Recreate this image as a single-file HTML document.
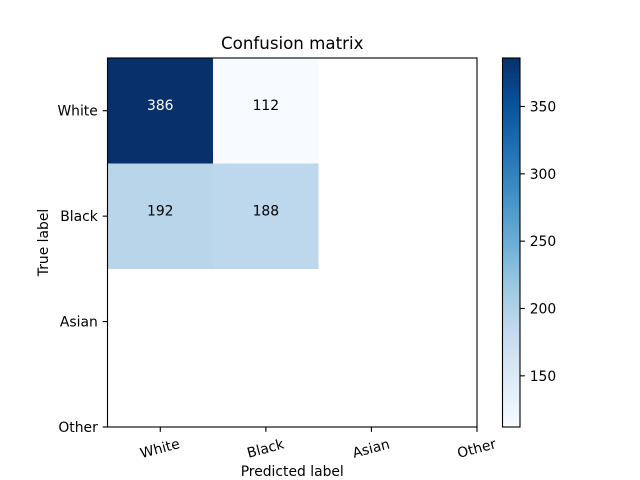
<!DOCTYPE html>
<html>
<head>
<meta charset="utf-8">
<title>Confusion matrix</title>
<style>
html,body{margin:0;padding:0;background:#fff;}
svg{display:block;}
text{font-family:"DejaVu Sans",sans-serif;font-size:13.89px;fill:#000;}
</style>
</head>
<body>
<svg id="chart" xmlns="http://www.w3.org/2000/svg" width="640" height="480" viewBox="0 0 640 480"></svg>
<script>
const trueLabels = ['White', 'Black', 'Asian', 'Other'];
const predictedLabels = ['White', 'Black', 'Asian', 'Other'];
const matrixRow0 = [386, 112];
const matrixRow1 = [192, 188];
const matrixRows = [matrixRow0, matrixRow1];
const colorbarTicks = [150, 200, 250, 300, 350];
const blues = ['#f7fbff', '#deebf7', '#c6dbef', '#9ecae1', '#6baed6', '#4292c6', '#2171b5', '#08519c', '#08306b'];
const titleText = 'Confusion matrix';
const xTitleText = 'Predicted label';
const yTitleText = 'True label';

const NS = 'http://www.w3.org/2000/svg';
const svg = document.getElementById('chart');
const plot = {left: 107.5, right: 477, top: 58, bottom: 427};
const bar = {left: 502.5, right: 520, top: 58, bottom: 427};
const all = matrixRows.flat();
const vMin = Math.min(...all);
const vMax = Math.max(...all);
const xScale = v => plot.left + (v + 0.5) * (plot.right - plot.left) / 3.5;
const yScale = v => plot.top + (v + 0.5) * (plot.bottom - plot.top) / 3.5;
const barY = v => bar.bottom - (v - vMin) / (vMax - vMin) * (bar.bottom - bar.top);

function add(tag, attrs, parent) {
  const el = document.createElementNS(NS, tag);
  for (const k in attrs) el.setAttribute(k, attrs[k]);
  (parent || svg).appendChild(el);
  return el;
}
function colorAt(t) {
  const p = Math.max(0, Math.min(1, t)) * (blues.length - 1);
  const i = Math.min(Math.floor(p), blues.length - 2);
  const f = p - i;
  const c = s => [1, 3, 5].map(o => parseInt(s.substr(o, 2), 16));
  const a = c(blues[i]), b = c(blues[i + 1]);
  return 'rgb(' + a.map((q, n) => Math.round(q + (b[n] - q) * f)).join(',') + ')';
}
const norm = v => (v - vMin) / (vMax - vMin);

/* heatmap cells */
matrixRows.forEach((row, r) => {
  row.forEach((v, c) => {
    const rect = add('rect', {
      x: xScale(c - 0.5), y: yScale(r - 0.5),
      width: xScale(c + 0.5) - xScale(c - 0.5),
      height: yScale(r + 0.5) - yScale(r - 0.5),
      fill: colorAt(norm(v)), 'shape-rendering': 'crispEdges'
    });
    
    
  });
});

/* cell values */
matrixRows.forEach((row, r) => {
  row.forEach((v, c) => {
    const t = add('text', {
      x: xScale(c), y: yScale(r) - 0.5, 'text-anchor': 'middle',
      style: 'fill:' + (v > vMax / 2 ? '#fff' : '#000')
    });
    t.textContent = v;
    
    
  });
});

/* plot frame */
const frame = add('rect', {
  x: plot.left, y: plot.top, width: plot.right - plot.left, height: plot.bottom - plot.top,
  fill: 'none', stroke: '#000', 'stroke-width': 1.11
});



/* y ticks */
trueLabels.forEach((label, i) => {
  const y = yScale(i);
  const tick = add('line', {x1: plot.left, x2: plot.left - 4.86, y1: y, y2: y, stroke: '#000', 'stroke-width': 1.11});
  
  
  const t = add('text', {x: plot.left - 9.7, y: y + 5, 'text-anchor': 'end'});
  t.textContent = label;
  
  
});

/* x ticks */
predictedLabels.forEach((label, i) => {
  const x = xScale(i);
  const tick = add('line', {x1: x, x2: x, y1: plot.bottom, y2: plot.bottom + 4.86, stroke: '#000', 'stroke-width': 1.11});
  
  
  const cy = 448;
  const t = add('text', {
    x: x - 0.5, y: cy + 5, 'text-anchor': 'middle',
    transform: 'rotate(-15 ' + x + ' ' + cy + ')'
  });
  t.textContent = label;
  
  
});

/* titles */
const title = add('text', {x: (plot.left + plot.right) / 2, y: 49, 'text-anchor': 'middle', style: 'font-size:16.67px'});
title.textContent = titleText;



const xTitle = add('text', {x: (plot.left + plot.right) / 2, y: 476, 'text-anchor': 'middle'});
xTitle.textContent = xTitleText;



const yTitle = add('text', {x: 0, y: 0, 'text-anchor': 'middle', transform: 'translate(48 242.5) rotate(-90)'});
yTitle.textContent = yTitleText;



/* colorbar */
const defs = add('defs', {});
const grad = add('linearGradient', {id: 'blues-grad', x1: 0, y1: 1, x2: 0, y2: 0}, defs);
blues.forEach((c, i) => {
  add('stop', {offset: i / (blues.length - 1), 'stop-color': c}, grad);
});
const barRect = add('rect', {
  x: bar.left, y: bar.top, width: bar.right - bar.left, height: bar.bottom - bar.top,
  fill: 'url(#blues-grad)', stroke: '#000', 'stroke-width': 1.11
});



colorbarTicks.forEach(v => {
  const y = barY(v);
  const tick = add('line', {x1: bar.right, x2: bar.right + 4.86, y1: y, y2: y, stroke: '#000', 'stroke-width': 1.11});
  
  
  const t = add('text', {x: bar.right + 9.7, y: y + 5});
  t.textContent = v;
  
  
});
</script>
</body>
</html>
